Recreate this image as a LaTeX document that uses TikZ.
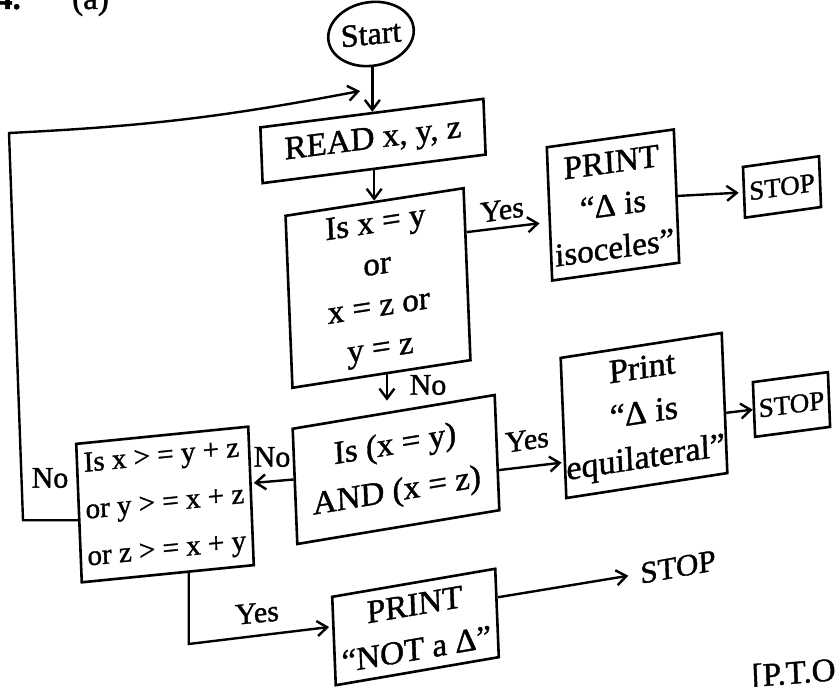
\documentclass[tikz,border=0pt]{standalone}
\usepackage{fontspec}
\setmainfont{Liberation Serif}[FakeBold=1.2]
\usetikzlibrary{arrows.meta,calc,shapes.geometric}

\tikzset{
  box/.style={draw, line width=2.6pt, inner sep=0pt, align=center,
    font=\fontsize{33}{43}\selectfont},
  skw/.style={yslant=#1, xslant=-0.04},
  lbl/.style={inner sep=0pt, font=\fontsize{30}{36}\selectfont},
  conn/.style={line width=2.4pt, line join=miter,
    -{Straight Barb[length=10pt,width=15pt]}},
}

\begin{document}
\begin{tikzpicture}[x=1pt, y=1pt]
\useasboundingbox (0,0) rectangle (835,687);

% question number and page note
\node[anchor=base east, inner sep=0pt, font=\bfseries\fontsize{33}{40}\selectfont] (qnum) at (21,678) {4.};
\node[anchor=base west, inner sep=0pt, font=\fontsize{33}{40}\selectfont] (qpart) at (72,678) {(a)};
\node[anchor=base west, inner sep=0pt, skw=0.08, font=\fontsize{33}{40}\selectfont] (pto) at (752,0) {[P.T.O.};

% flowchart boxes
\node[box, ellipse, minimum width=76pt, minimum height=64pt, skw=0.1,
  font=\fontsize{32}{36}\selectfont] (start) at (371,653) {Start};
\node[box, minimum width=223pt, minimum height=56pt, skw=0.128] (read) at (373,546) {READ x, y, z};
\node[box, minimum width=178pt, minimum height=173pt, skw=0.155,
  font=\fontsize{33}{42}\selectfont] (dec1) at (378,399) {Is x = y\\or\\x = z or\\y = z};
\node[box, minimum width=127pt, minimum height=134pt, skw=0.14] (isoc) at (613,482) {PRINT\\“Δ is\\isoceles”};
\node[box, minimum width=76pt, minimum height=51pt, skw=0.14,
  font=\fontsize{27}{32}\selectfont] (stopa) at (782,500) {STOP};
\node[box, minimum width=202pt, minimum height=116pt, skw=0.167,
  font=\fontsize{33}{47}\selectfont] (dec2) at (396,217.5) {Is (x = y)\\AND (x = z)};
\node[box, minimum width=161pt, minimum height=141pt, skw=0.155,
  font=\fontsize{34}{45}\selectfont] (equil) at (644,271.5) {Print\\“Δ is\\equilateral”};
\node[box, minimum width=75pt, minimum height=55pt, skw=0.133,
  font=\fontsize{27}{32}\selectfont] (stopb) at (791.5,282.5) {STOP};
\node[box, minimum width=172pt, minimum height=139pt, skw=0.1, align=left,
  font=\fontsize{29}{47}\selectfont] (dec3) at (165,182.5) {Is x > = y + z\\or y > = x + z\\or z > = x + y};
\node[box, minimum width=163pt, minimum height=89pt, skw=0.172,
  font=\fontsize{33}{45}\selectfont] (notd) at (415.5,60) {PRINT\\“NOT a Δ”};
\node[lbl, skw=0.18, font=\fontsize{31}{36}\selectfont] (stopc) at (678,120) {STOP};

% branch labels
\node[lbl, skw=0.15] (yesa) at (502,477) {Yes};
\node[lbl] (noa) at (428,302) {No};
\node[lbl, skw=0.15] (yesb) at (527,247) {Yes};
\node[lbl] (nob) at (272,230) {No};
\node[lbl] (noc) at (50,209) {No};
\node[lbl, skw=0.1] (yesc) at (257,74) {Yes};

% helper points for the connectors
\coordinate (loopx) at (23,167);
\coordinate (looptl) at (9,554);
\coordinate (loopend) at (360,596);
\coordinate (ybend) at (190,43);
\coordinate (d1s) at ($(dec1.south west)!0.53!(dec1.south east)$);
\coordinate (d3w) at ($(dec3.north west)!0.55!(dec3.south west)$);
\coordinate (d3s) at ($(dec3.south west)!0.62!(dec3.south east)$);

% connectors
\draw[conn] (start.south) -- (start.south |- read.north);
\draw[conn] (read.south) -- (read.south |- dec1.north);
\draw[conn, shorten >=9pt] ($(dec1.north east)!0.26!(dec1.south east)$)
  -- ($(isoc.north west)!0.56!(isoc.south west)$);
\draw[conn, shorten >=4pt] (isoc.east) -- (stopa.west);
\draw[conn, shorten >=10pt] (d1s) -- (d1s |- dec2.north);
\draw[conn, shorten >=2pt] ($(dec2.north east)!0.65!(dec2.south east)$)
  -- ($(equil.north west)!0.74!(equil.south west)$);
\draw[conn] ($(equil.north east)!0.57!(equil.south east)$) -- (stopb.west);
\draw[conn, shorten >=2pt] ($(dec2.north west)!0.44!(dec2.south west)$)
  -- ($(dec3.north east)!0.41!(dec3.south east)$);
\draw[conn] (d3w) -- (d3w -| loopx) -- (looptl) to[bend right=4] (loopend);
\draw[conn, shorten >=3pt] (d3s) -- (d3s |- ybend)
  -- ($(notd.north west)!0.34!(notd.south west)$);
\draw[conn, shorten >=12pt] ($(notd.north east)!0.33!(notd.south east)$) -- (stopc.west);
\end{tikzpicture}
\end{document}
